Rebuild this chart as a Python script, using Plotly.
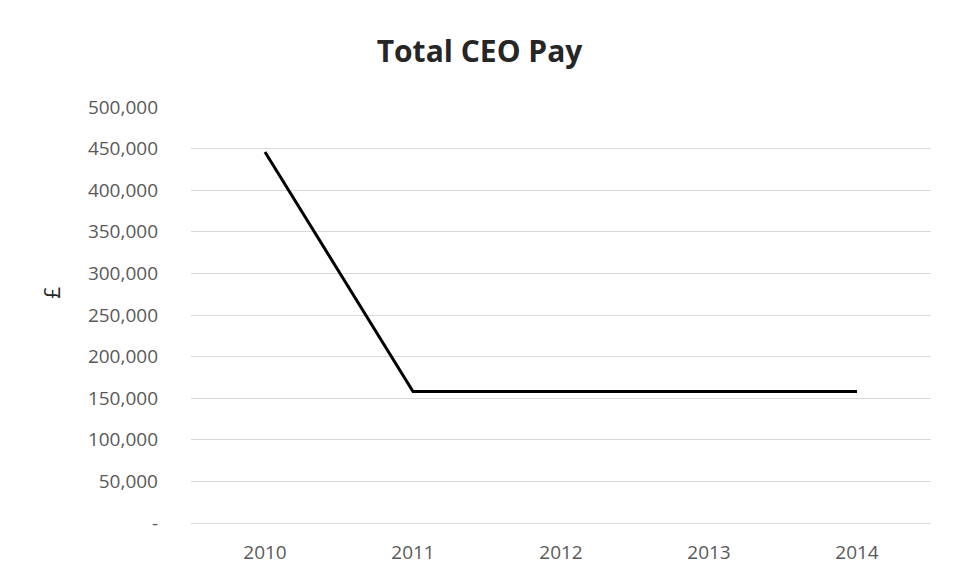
import plotly.graph_objects as go

years = ["2010", "2011", "2012", "2013", "2014"]
ceo_pay = [446000, 158000, 158000, 158000, 158000]

tick_vals = [0, 50000, 100000, 150000, 200000, 250000, 300000, 350000, 400000, 450000, 500000]
tick_text = ["-", "50,000", "100,000", "150,000", "200,000", "250,000", "300,000",
             "350,000", "400,000", "450,000", "500,000"]

fig = go.Figure(go.Scatter(
    x=years, y=ceo_pay, mode="lines",
    line=dict(color="#000000", width=3),
    showlegend=False,
))

fig.update_layout(
    width=959, height=577,
    paper_bgcolor="white", plot_bgcolor="white",
    margin=dict(l=191, r=28, t=107, b=54),
    title=dict(text="<b>Total CEO Pay</b>", x=0.5, xanchor="center",
               yref="container", y=0.91, yanchor="middle",
               font=dict(family="Open Sans", size=30, color="#262626")),
    font=dict(family="Open Sans", size=19, color="#595959"),
)

fig.update_xaxes(
    type="category", range=[-0.5, 4.5],
    showgrid=False, zeroline=False, showline=False,
    ticks="", ticklabelstandoff=16,
    tickfont=dict(size=19, color="#595959"),
)

fig.update_yaxes(
    range=[0, 500000], tickvals=tick_vals, ticktext=tick_text,
    showgrid=True, gridcolor="#d9d9d9", gridwidth=1,
    zeroline=True, zerolinecolor="#d9d9d9", zerolinewidth=1,
    showline=False, ticks="",
    ticklabelstandoff=32,
    tickfont=dict(size=19, color="#595959"),
)

# Currency label for the value axis, rotated and sitting left of the tick labels
fig.add_annotation(
    text="£", textangle=-90, showarrow=False,
    xref="paper", x=-0.188, xanchor="center",
    yref="paper", y=0.553, yanchor="middle",
    font=dict(family="Open Sans", size=21, color="#262626"),
)

fig.write_html("out.html")
